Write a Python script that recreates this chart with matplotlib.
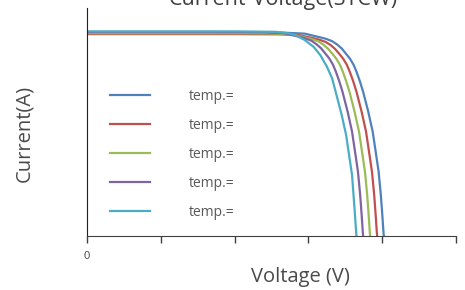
import matplotlib
matplotlib.use("Agg")
import matplotlib.pyplot as plt

plt.rcParams['font.family'] = ['Open Sans', 'DejaVu Sans']

# curves (voltage V, current A)
v_blue = [0, 20, 26.8, 29.5, 31.3, 32.3, 33.2, 33.9, 34.5, 35.0, 35.6, 36.1, 36.5, 36.95, 37.4,
          38.1, 38.7, 39.1, 39.5, 39.8, 40.0, 40.15, 40.2]
i_blue = [8.93, 8.93, 8.92, 8.88, 8.74, 8.66, 8.55, 8.40, 8.23, 8.03, 7.79, 7.52, 7.21, 6.80, 6.33,
          5.45, 4.57, 3.70, 2.82, 1.80, 0.92, 0.19, 0]
v_red = [0, 19.1, 25.9, 28.6, 30.4, 31.4, 32.3, 33.0, 33.6, 34.1, 34.7, 35.2, 35.6, 36.05, 36.5,
         37.2, 37.8, 38.2, 38.6, 38.9, 39.1, 39.25, 39.3]
i_red = [8.86, 8.86, 8.85, 8.82, 8.70, 8.62, 8.52, 8.38, 8.21, 8.02, 7.78, 7.51, 7.20, 6.80, 6.33,
         5.45, 4.57, 3.70, 2.82, 1.80, 0.92, 0.19, 0]
v_green = [0, 18.2, 24.95, 27.65, 29.45, 30.45, 31.35, 32.05, 32.65, 33.15, 33.75, 34.25, 34.65, 35.1, 35.55,
           36.25, 36.85, 37.25, 37.65, 37.95, 38.15, 38.3, 38.35]
i_green = [8.90, 8.90, 8.89, 8.85, 8.72, 8.64, 8.54, 8.39, 8.22, 8.03, 7.79, 7.52, 7.21, 6.80, 6.33,
           5.45, 4.57, 3.70, 2.82, 1.80, 0.92, 0.19, 0]
v_purple = [0, 17.2, 24.0, 26.7, 28.5, 29.5, 30.4, 31.1, 31.7, 32.2, 32.8, 33.3, 33.7, 34.15, 34.6,
            35.3, 35.9, 36.3, 36.7, 37.0, 37.2, 37.35, 37.4]
i_purple = [8.95, 8.95, 8.94, 8.90, 8.76, 8.68, 8.57, 8.41, 8.24, 8.04, 7.80, 7.53, 7.22, 6.81, 6.34,
            5.46, 4.58, 3.71, 2.83, 1.81, 0.93, 0.20, 0]
v_cyan = [0, 20, 25.5, 26.5, 27.4, 28.2, 29.5, 30.7, 31.6, 32.5, 33.2, 33.8, 34.5, 35.1, 35.5,
          35.9, 36.1, 36.3, 36.45, 36.5]
i_cyan = [8.98, 8.98, 8.96, 8.93, 8.89, 8.82, 8.60, 8.30, 7.94, 7.43, 6.92, 6.18, 5.31, 4.43, 3.55,
          2.68, 1.80, 0.92, 0.19, 0]

labels = ["temp.=", "temp.=", "temp.=", "temp.=", "temp.="]
colors = ["#4F81BD", "#C0504D", "#9BBB59", "#8064A2", "#4BACC6"]
x_ticks = [0, 10, 20, 30, 40, 50]
x_ticklabels = ["0", "", "", "", "", ""]

fig = plt.figure(figsize=(4.65, 2.9), dpi=100)
ax = fig.add_axes([0.187, 0.186, 0.794, 0.786])

series = [(v_blue, i_blue), (v_red, i_red), (v_green, i_green),
          (v_purple, i_purple), (v_cyan, i_cyan)]
for (v, i), c, lab in zip(series, colors, labels):
    ax.plot(v, i, color=c, lw=1.6, label=lab, solid_joinstyle='round')

ax.set_xlim(0, 50)
ax.set_ylim(0, 10)
ax.set_xticks(x_ticks)
ax.set_xticklabels(x_ticklabels)
ax.set_yticks([])
ax.tick_params(axis='x', direction='out', length=5, width=1, pad=6,
               labelsize=8, labelcolor='#404040', color='#404040')
for s in ['top', 'right']:
    ax.spines[s].set_visible(False)
ax.spines['left'].set_color('#202020')
ax.spines['bottom'].set_color('#404040')

ax.text(0.531, 1.012, "Current-Voltage(STCW)", transform=ax.transAxes,
        ha='center', va='baseline', fontsize=15.5, color='#404040')
ax.set_xlabel("Voltage (V)", fontsize=14.5, color='#4a4a4a')
ax.xaxis.set_label_coords(0.577, -0.135)
ax.set_ylabel("Current(A)", fontsize=14.5, color='#4a4a4a')
ax.yaxis.set_label_coords(-0.144, 0.45)

ax.legend(loc='upper left', bbox_to_anchor=(0.047, 0.669), borderaxespad=0,
          frameon=False, handlelength=2.9, handletextpad=2.75, labelspacing=1.0,
          fontsize=10, labelcolor='#595959')

fig.savefig("out.png", dpi=100)
